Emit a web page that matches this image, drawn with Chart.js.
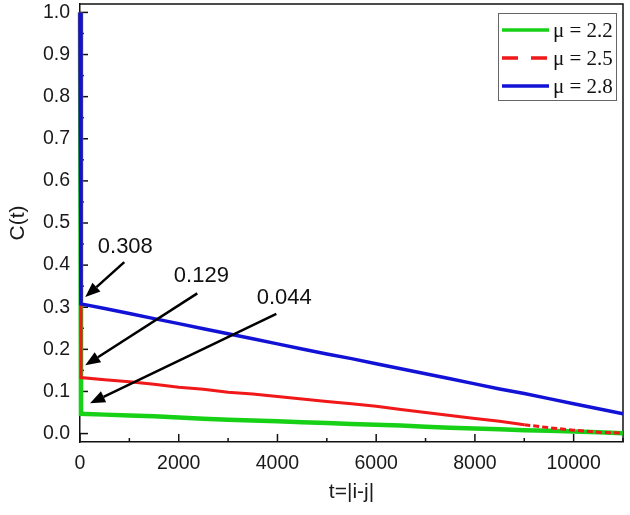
<!DOCTYPE html>
<html>
<head>
<meta charset="utf-8">
<script src="https://cdn.jsdelivr.net/npm/chart.js@4/dist/chart.umd.min.js"></script>
<style>
  body { margin: 0; background: #fff; }
  canvas { display: block; }
</style>
</head>
<body>
<canvas id="chart" width="630" height="515"></canvas>
<script>
// Lag values t=|i-j|
const tValues = [0, 20, 500, 1000, 1500, 2000, 2500, 3000, 3500, 4000, 4500, 5000,
  5500, 6000, 6500, 7000, 7500, 8000, 8500, 9000, 9500, 10000, 10500, 11000];

// C(t) for each mu
const mu22 = [1.0, 0.047, 0.045, 0.043, 0.041, 0.038, 0.035, 0.033, 0.031, 0.029, 0.027, 0.025,
  0.023, 0.021, 0.019, 0.016, 0.014, 0.012, 0.010, 0.008, 0.007, 0.005, 0.003, 0.001];
const mu25 = [1.0, 0.133, 0.128, 0.123, 0.117, 0.110, 0.105, 0.098, 0.094, 0.088, 0.082, 0.076,
  0.071, 0.065, 0.057, 0.050, 0.043, 0.036, 0.029, 0.021, 0.014, 0.008, 0.003, 0.001];
const mu28 = [1.0, 0.308, 0.297, 0.285, 0.273, 0.261, 0.249, 0.237, 0.225, 0.213, 0.201, 0.189,
  0.178, 0.166, 0.154, 0.142, 0.130, 0.118, 0.106, 0.095, 0.083, 0.071, 0.059, 0.047];

const seriesLabels = ["\u03bc = 2.2", "\u03bc = 2.5", "\u03bc = 2.8"];

// tick labels
const xTicks = [0, 2000, 4000, 6000, 8000, 10000];
const yTicks = [0.0, 0.1, 0.2, 0.3, 0.4, 0.5, 0.6, 0.7, 0.8, 0.9, 1.0];

// annotations: text, label position, arrow tail, arrow head (data units)
const noteTexts = ["0.308", "0.129", "0.044"];
const noteLabelAt = [[918, 0.4425], [2458, 0.374], [4137, 0.321]];
const noteTail = [[897, 0.407], [2376, 0.333], [3977, 0.284]];
const noteHead = [[107, 0.324], [107, 0.162], [203, 0.072]];

function toPoints(ys) {
  return tValues.map((t, i) => ({ x: t, y: ys[i] }));
}

const colors = ["#17d117", "#f01818", "#1212d6"];

// inward ticks, frame, arrows and legend
const decorations = {
  id: "decorations",
  beforeDatasetsDraw(chart) {
    const ctx = chart.ctx;
    const xs = chart.scales.x, ys = chart.scales.y;
    const a = chart.chartArea;
    ctx.save();
    ctx.strokeStyle = "#111";
    ctx.lineWidth = 1.5;
    // frame top & right
    ctx.beginPath();
    ctx.moveTo(a.left, a.top);
    ctx.lineTo(a.right, a.top);
    ctx.lineTo(a.right, a.bottom);
    ctx.stroke();
    // x ticks
    for (let v = 0; v <= 11000; v += 1000) {
      const px = xs.getPixelForValue(v);
      const len = v % 2000 === 0 ? 8 : 4;
      ctx.beginPath();
      ctx.moveTo(px, a.bottom);
      ctx.lineTo(px, a.bottom - len);
      ctx.stroke();
    }
    // y ticks
    for (let k = 0; k <= 20; k++) {
      const py = ys.getPixelForValue(k * 0.05);
      const len = k % 2 === 0 ? 8 : 4;
      ctx.beginPath();
      ctx.moveTo(a.left, py);
      ctx.lineTo(a.left + len, py);
      ctx.stroke();
    }
    ctx.restore();
  },
  afterDatasetsDraw(chart) {
    const ctx = chart.ctx;
    const xs = chart.scales.x, ys = chart.scales.y;
    const a = chart.chartArea;
    ctx.save();
    // arrows
    ctx.strokeStyle = "#000";
    ctx.fillStyle = "#000";
    ctx.lineWidth = 2.5;
    for (let i = 0; i < noteTexts.length; i++) {
      const x1 = xs.getPixelForValue(noteTail[i][0]), y1 = ys.getPixelForValue(noteTail[i][1]);
      const x2 = xs.getPixelForValue(noteHead[i][0]), y2 = ys.getPixelForValue(noteHead[i][1]);
      const ang = Math.atan2(y2 - y1, x2 - x1);
      const hl = 15, hw = 6;
      const bx = x2 - hl * Math.cos(ang), by = y2 - hl * Math.sin(ang);
      ctx.beginPath();
      ctx.moveTo(x1, y1);
      ctx.lineTo(bx, by);
      ctx.stroke();
      ctx.beginPath();
      ctx.moveTo(x2, y2);
      ctx.lineTo(bx + hw * Math.sin(ang), by - hw * Math.cos(ang));
      ctx.lineTo(bx - hw * Math.sin(ang), by + hw * Math.cos(ang));
      ctx.closePath();
      ctx.fill();
      ctx.font = "22px 'Liberation Sans', Arial, sans-serif";
      ctx.fillStyle = "#111";
      ctx.textAlign = "center";
      ctx.textBaseline = "middle";
      ctx.fillText(noteTexts[i], xs.getPixelForValue(noteLabelAt[i][0]), ys.getPixelForValue(noteLabelAt[i][1]));
      ctx.fillStyle = "#000";
    }
    // legend box
    const lx = a.right - 125, ly = a.top + 9, lw = 118, lh = 87;
    ctx.fillStyle = "#fff";
    ctx.fillRect(lx, ly, lw, lh);
    ctx.strokeStyle = "#666";
    ctx.lineWidth = 1;
    ctx.strokeRect(lx + 0.5, ly + 0.5, lw, lh);
    chart.data.datasets.forEach((ds, i) => {
      const ry = ly + 17 + i * 28;
      ctx.strokeStyle = ds.borderColor;
      ctx.lineWidth = 3.5;
      ctx.setLineDash(i === 1 ? [16, 13] : []);
      ctx.beginPath();
      ctx.moveTo(lx + 4, ry);
      ctx.lineTo(lx + 51, ry);
      ctx.stroke();
      ctx.setLineDash([]);
      ctx.fillStyle = "#111";
      ctx.font = "21px 'Liberation Serif', 'Times New Roman', serif";
      ctx.textAlign = "left";
      ctx.textBaseline = "middle";
      ctx.fillText(ds.label, lx + 55, ry + 1);
    });
    ctx.restore();
  }
};

new Chart(document.getElementById("chart"), {
  type: "line",
  data: {
    datasets: [
      { label: seriesLabels[0], data: toPoints(mu22), borderColor: colors[0], borderWidth: 4.5, order: 2 },
      { label: seriesLabels[1], data: toPoints(mu25), borderColor: colors[1], borderWidth: 3, order: 1,
        segment: { borderDash: c => c.p0.parsed.x >= 9000 ? [6, 3] : undefined } },
      { label: seriesLabels[2], data: toPoints(mu28), borderColor: colors[2], borderWidth: 3.5, order: 0 }
    ]
  },
  options: {
    responsive: false,
    animation: false,
    layout: { padding: { top: 4, right: 7, left: 0, bottom: 0 } },
    elements: { point: { radius: 0 }, line: { tension: 0 } },
    datasets: { line: { clip: 6 } },
    plugins: { legend: { display: false }, tooltip: { enabled: false } },
    scales: {
      x: {
        type: "linear",
        min: 0,
        max: 11000,
        afterBuildTicks: s => { s.ticks = xTicks.map(v => ({ value: v })); },
        afterFit: s => { s.height = 73; s.paddingLeft = 0; s.paddingRight = 0; },
        grid: { display: false, drawTicks: false },
        border: { display: true, color: "#111", width: 1.5 },
        ticks: {
          autoSkip: false,
          padding: 10,
          color: "#1a1a1a",
          font: { family: "'Liberation Sans', Arial, sans-serif", size: 19.5 },
          maxRotation: 0,
          callback: v => String(v)
        },
        title: {
          display: true,
          text: "t=|i-j|",
          color: "#1a1a1a",
          font: { family: "'Liberation Sans', Arial, sans-serif", size: 21 },
          padding: { top: 0, bottom: 10 }
        }
      },
      y: {
        min: -0.02,
        max: 1.02,
        afterBuildTicks: s => { s.ticks = yTicks.map(v => ({ value: v })); },
        afterFit: s => { s.width = 80; s.paddingTop = 0; s.paddingBottom = 0; },
        grid: { display: false, drawTicks: false },
        border: { display: true, color: "#111", width: 1.5 },
        ticks: {
          autoSkip: false,
          padding: 10,
          color: "#1a1a1a",
          font: { family: "'Liberation Sans', Arial, sans-serif", size: 19.5 },
          callback: v => v.toFixed(1)
        },
        title: {
          display: true,
          text: "C(t)",
          color: "#1a1a1a",
          font: { family: "'Liberation Sans', Arial, sans-serif", size: 21 },
          padding: { top: 6, bottom: 0 }
        }
      }
    }
  },
  plugins: [decorations]
});
</script>
</body>
</html>
